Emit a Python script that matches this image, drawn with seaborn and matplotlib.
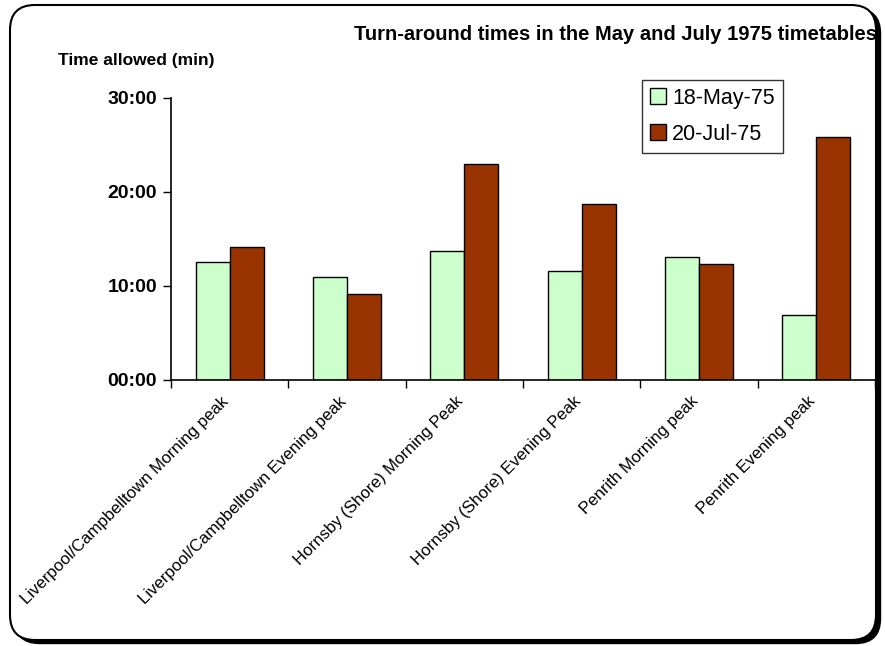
import numpy as np
import pandas as pd
import matplotlib
matplotlib.use('Agg')
import matplotlib.pyplot as plt
import seaborn as sb
from matplotlib.patches import FancyBboxPatch, Patch
from matplotlib.ticker import FuncFormatter, FixedLocator

# Turn-around times (minutes)
routes = ['Liverpool/Campbelltown Morning peak', 'Liverpool/Campbelltown Evening peak',
          'Hornsby (Shore) Morning Peak', 'Hornsby (Shore) Evening Peak',
          'Penrith Morning peak', 'Penrith Evening peak']
may_75 = [12.55, 11.0, 13.7, 11.57, 13.07, 6.93]
jul_75 = [14.15, 9.17, 23.03, 18.72, 12.38, 25.83]
series = ['18-May-75', '20-Jul-75']
colours = ['#CCFFCC', '#993300']

df = pd.DataFrame({'Route': routes * 2,
                   'Timetable': [series[0]] * len(routes) + [series[1]] * len(routes),
                   'Minutes': may_75 + jul_75})

sb.set_style('white')
plt.rcParams['font.family'] = ['Liberation Sans', 'DejaVu Sans']
plt.rcParams['text.color'] = 'black'
plt.rcParams['xtick.color'] = 'black'
plt.rcParams['ytick.color'] = 'black'

fig = plt.figure(figsize=(8.85, 6.46), dpi=100)

# rounded frame with a drop shadow (inch coordinates)
shadow = FancyBboxPatch((0.145, 0.025), 8.66, 6.35, boxstyle='round,pad=0,rounding_size=0.25',
                        transform=fig.dpi_scale_trans, facecolor='black', edgecolor='black', zorder=0)
frame = FancyBboxPatch((0.10, 0.06), 8.66, 6.35, boxstyle='round,pad=0,rounding_size=0.25',
                       transform=fig.dpi_scale_trans, facecolor='white', edgecolor='black',
                       linewidth=1.5, zorder=1)
fig.patches.extend([shadow, frame])

ax = fig.add_axes([171 / 885, 1 - 380 / 646, 704 / 885, 282 / 646])
ax.set_zorder(2)
ax.patch.set_alpha(0)

sb.barplot(data=df, x='Route', y='Minutes', hue='Timetable', palette=colours, saturation=1,
           width=0.58, gap=0, edgecolor='black', linewidth=1, ax=ax, legend=False)

ax.set_ylim(0, 30)
ax.set_xlim(-0.5, len(routes) - 0.5)
ax.set_yticks([0, 10, 20, 30])
ax.yaxis.set_major_formatter(FuncFormatter(lambda v, p: '%02d:00' % v))
for lab in ax.get_yticklabels():
    lab.set_fontweight('bold')
    lab.set_fontsize(14)

ax.set_xticks(range(len(routes)))
ax.set_xticklabels(routes, rotation=45, ha='right', va='baseline', rotation_mode='anchor',
                   fontsize=12.1)
ax.tick_params(axis='x', which='major', length=0, pad=16)
ax.xaxis.set_minor_locator(FixedLocator(np.arange(-0.5, len(routes), 1)))
ax.tick_params(axis='x', which='minor', bottom=True, length=6, width=1, color='black', direction='out')
ax.tick_params(axis='y', left=True, length=6, width=1, color='black', direction='out', pad=4)

for s in ['top', 'right']:
    ax.spines[s].set_visible(False)
for s in ['left', 'bottom']:
    ax.spines[s].set_color('black')
    ax.spines[s].set_linewidth(1.2)
ax.set_xlabel('')
ax.set_ylabel('')

handles = [Patch(facecolor=c, edgecolor='black', label=l) for c, l in zip(colours, series)]
leg = fig.legend(handles=handles, loc='upper left', bbox_to_anchor=(642 / 885, 1 - 80 / 646),
                 fontsize=15.5, frameon=True, fancybox=False, handlelength=0.75, handleheight=0.75,
                 handletextpad=0.3, borderpad=0.36, labelspacing=0.7, borderaxespad=0)
leg.get_frame().set_edgecolor('black')
leg.get_frame().set_linewidth(1)

fig.text(877 / 885, 1 - 35 / 646, 'Turn-around times in the May and July 1975 timetables',
         ha='right', va='center', fontsize=14.5, fontweight='bold')
fig.text(58 / 885, 1 - 60 / 646, 'Time allowed (min)', ha='left', va='center',
         fontsize=12.5, fontweight='bold')

fig.savefig('out.png', dpi=100)
